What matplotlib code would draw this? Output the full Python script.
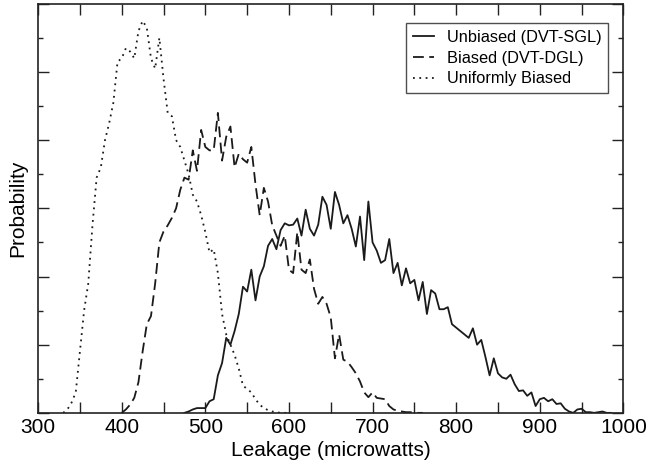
import matplotlib
matplotlib.use('Agg')
import matplotlib.pyplot as plt
from matplotlib.ticker import MultipleLocator, NullFormatter

plt.rcParams['font.family'] = ['Liberation Sans', 'DejaVu Sans']

# leakage bins (microwatts) and probability (arbitrary units, tick labels hidden)
x_unbiased = list(range(475, 990, 5))
p_unbiased = [0.0, 0.02, 0.05, 0.07, 0.07, 0.07, 0.17, 0.2, 0.55, 0.73,
              1.1, 1.0, 1.2, 1.45, 1.85, 1.78, 2.1, 1.65, 2.0, 2.15,
              2.45, 2.55, 2.4, 2.68, 2.78, 2.75, 2.76, 2.85, 2.6, 2.98,
              2.7, 2.6, 2.76, 3.17, 3.05, 2.7, 3.24, 3.05, 2.78, 2.9,
              2.7, 2.44, 2.88, 2.24, 3.1, 2.5, 2.38, 2.2, 2.24, 2.55,
              2.05, 2.2, 1.87, 2.12, 1.9, 1.95, 1.65, 1.92, 1.45, 1.8,
              1.75, 1.52, 1.52, 1.55, 1.3, 1.25, 1.2, 1.15, 1.1, 1.24,
              1.0, 1.07, 0.82, 0.55, 0.8, 0.58, 0.52, 0.5, 0.56, 0.42,
              0.32, 0.33, 0.25, 0.3, 0.1, 0.2, 0.22, 0.17, 0.2, 0.13,
              0.14, 0.06, 0.02, 0.0, 0.05, 0.06, 0.01, 0.01, 0.0, 0.01,
              0.02, 0.0, 0.0]

x_biased = list(range(400, 765, 5))
p_biased = [0.0, 0.05, 0.12, 0.22, 0.45, 0.9, 1.3, 1.42, 1.9, 2.5,
            2.66, 2.75, 2.86, 3.0, 3.27, 3.45, 3.42, 3.85, 3.55, 4.15,
            3.9, 3.85, 3.85, 4.4, 3.7, 4.05, 4.2, 3.6, 3.8, 3.72,
            3.67, 3.9, 3.35, 2.9, 3.3, 3.1, 2.75, 2.6, 2.45, 2.6,
            2.1, 2.05, 2.65, 2.1, 2.05, 2.25, 1.82, 1.6, 1.7, 1.6,
            1.4, 0.8, 1.15, 0.78, 0.75, 0.67, 0.58, 0.46, 0.3, 0.23,
            0.3, 0.22, 0.21, 0.2, 0.1, 0.05, 0.03, 0.02, 0.01, 0.01,
            0.0, 0.0, 0.0]

x_uniform = list(range(330, 605, 5))
p_uniform = [0.0, 0.05, 0.15, 0.3, 0.9, 1.5, 1.9, 2.75, 3.45, 3.6,
             4.0, 4.25, 4.55, 5.15, 5.2, 5.35, 5.3, 5.2, 5.6, 5.75,
             5.65, 5.2, 5.05, 5.5, 4.9, 4.4, 4.35, 4.0, 3.9, 3.7,
             3.5, 3.2, 3.1, 2.9, 2.65, 2.35, 2.4, 2.05, 1.45, 1.15,
             1.0, 0.85, 0.65, 0.4, 0.35, 0.3, 0.2, 0.12, 0.07, 0.04,
             0.02, 0.01, 0.0, 0.0, 0.0]

fig = plt.figure(figsize=(6.46, 4.74), dpi=100)
ax = fig.add_axes([0.059, 0.129, 0.906, 0.863])

ax.plot(x_unbiased, p_unbiased, color='#1a1a1a', lw=1.3, ls='-', label='Unbiased (DVT-SGL)')
ax.plot(x_biased, p_biased, color='#1a1a1a', lw=1.3, ls=(0, (6, 3)), label='Biased (DVT-DGL)')
ax.plot(x_uniform, p_uniform, color='#1a1a1a', lw=1.3, ls=(0, (1, 2.5)), label='Uniformly Biased')

ax.set_xlim(300, 1000)
ax.set_ylim(0, 6)
ax.xaxis.set_major_locator(MultipleLocator(100))
ax.xaxis.set_minor_locator(MultipleLocator(50))
ax.yaxis.set_major_locator(MultipleLocator(1))
ax.yaxis.set_minor_locator(MultipleLocator(0.5))
ax.yaxis.set_major_formatter(NullFormatter())
ax.tick_params(which='both', direction='in', top=True, right=True, labelsize=15, width=1.0, color='#222222')
ax.tick_params(axis='x', which='both', length=8)
ax.tick_params(axis='y', which='major', length=8)
ax.tick_params(axis='y', which='minor', length=3.5)
for s in ax.spines.values():
    s.set_linewidth(1.2)
    s.set_color('#222222')

ax.set_xlabel('Leakage (microwatts)', fontsize=15, labelpad=3)
ax.set_ylabel('Probability', fontsize=15, labelpad=4)

leg = ax.legend(loc='upper right', fontsize=11.8, frameon=True, fancybox=False,
                handlelength=1.3, borderpad=0.4, labelspacing=0.35, bbox_to_anchor=(0.988, 0.972))
leg.get_frame().set_edgecolor('#222222')
leg.get_frame().set_linewidth(1.0)

plt.savefig('out.png', dpi=100)
